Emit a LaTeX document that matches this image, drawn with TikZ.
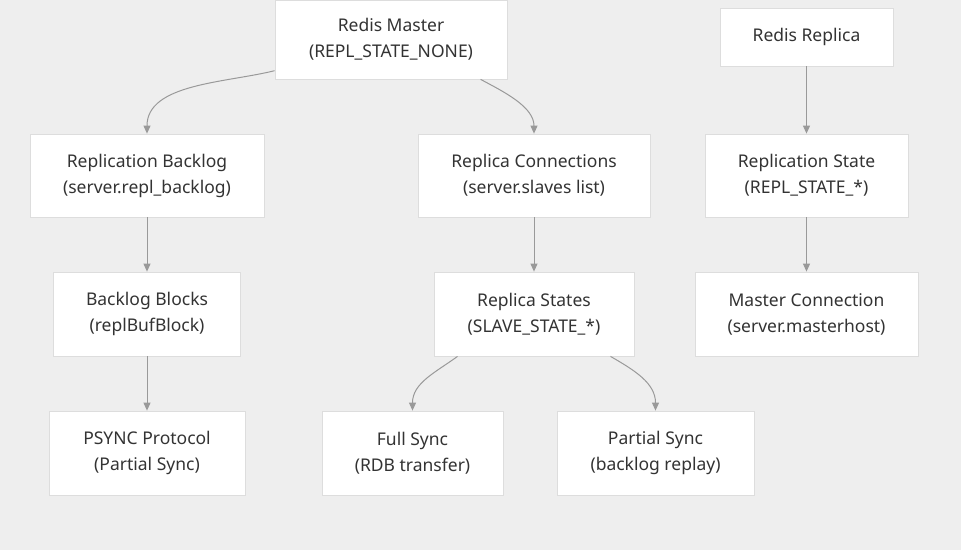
\documentclass[tikz,border=0pt]{standalone}
\usepackage{fontspec}
\setmainfont{Noto Sans}
\usetikzlibrary{arrows.meta}
\definecolor{bggray}{HTML}{EEEEEE}
\definecolor{boxline}{HTML}{DDDDDD}
\definecolor{edgegray}{HTML}{999999}
\definecolor{txtgray}{HTML}{333333}
\begin{document}
\begin{tikzpicture}[x=1pt, y=-1pt,
  box/.style={draw=boxline, fill=white, line width=0.8pt, align=center,
    text=txtgray, inner sep=0pt, font=\fontsize{17.5}{26}\selectfont},
  edge/.style={draw=edgegray, line width=1pt,
    -{Triangle[length=8pt,width=7pt]}},
  ]
  \useasboundingbox[fill=bggray] (0,0) rectangle (961,550);
  % top row
  \node[box, minimum width=232pt, minimum height=79pt] (master) at (391,39.5)
    {Redis Master\\(REPL\_STATE\_NONE)};
  \node[box, minimum width=173pt, minimum height=58pt] (replica) at (806.5,37)
    {Redis Replica};
  % second row
  \node[box, minimum width=234pt, minimum height=83pt] (backlog) at (147,175.5)
    {Replication Backlog\\(server.repl\_backlog)};
  \node[box, minimum width=232pt, minimum height=83pt] (conns) at (534,175.5)
    {Replica Connections\\(server.slaves list)};
  \node[box, minimum width=203pt, minimum height=83pt] (replstate) at (806.5,175.5)
    {Replication State\\(REPL\_STATE\_*)};
  % third row
  \node[box, minimum width=187pt, minimum height=84pt] (blocks) at (147,314)
    {Backlog Blocks\\(replBufBlock)};
  \node[box, minimum width=200pt, minimum height=84pt] (states) at (534,314)
    {Replica States\\(SLAVE\_STATE\_*)};
  \node[box, minimum width=223pt, minimum height=84pt] (masterconn) at (806.5,314)
    {Master Connection\\(server.masterhost)};
  % bottom row
  \node[box, minimum width=196pt, minimum height=84pt] (psync) at (147,453)
    {PSYNC Protocol\\(Partial Sync)};
  \node[box, minimum width=181pt, minimum height=84pt] (full) at (412.5,453)
    {Full Sync\\(RDB transfer)};
  \node[box, minimum width=197pt, minimum height=84pt] (partial) at (655.5,453)
    {Partial Sync\\(backlog replay)};

  \draw[edge] (master.195) to[out=194, in=90, looseness=0.9] (backlog.north);
  \draw[edge] (master.-24.4) to[out=-28, in=90, looseness=0.9] (conns.north);
  \draw[edge] (replica) -- (replstate);
  \draw[edge] (backlog) -- (blocks);
  \draw[edge] (blocks) -- (psync);
  \draw[edge] (conns) -- (states);
  \draw[edge] (replstate) -- (masterconn);
  \draw[edge] (states.209.6) to[out=216, in=90] (full.north);
  \draw[edge] (states.-29.3) to[out=-30, in=90] (partial.north);
\end{tikzpicture}
\end{document}
